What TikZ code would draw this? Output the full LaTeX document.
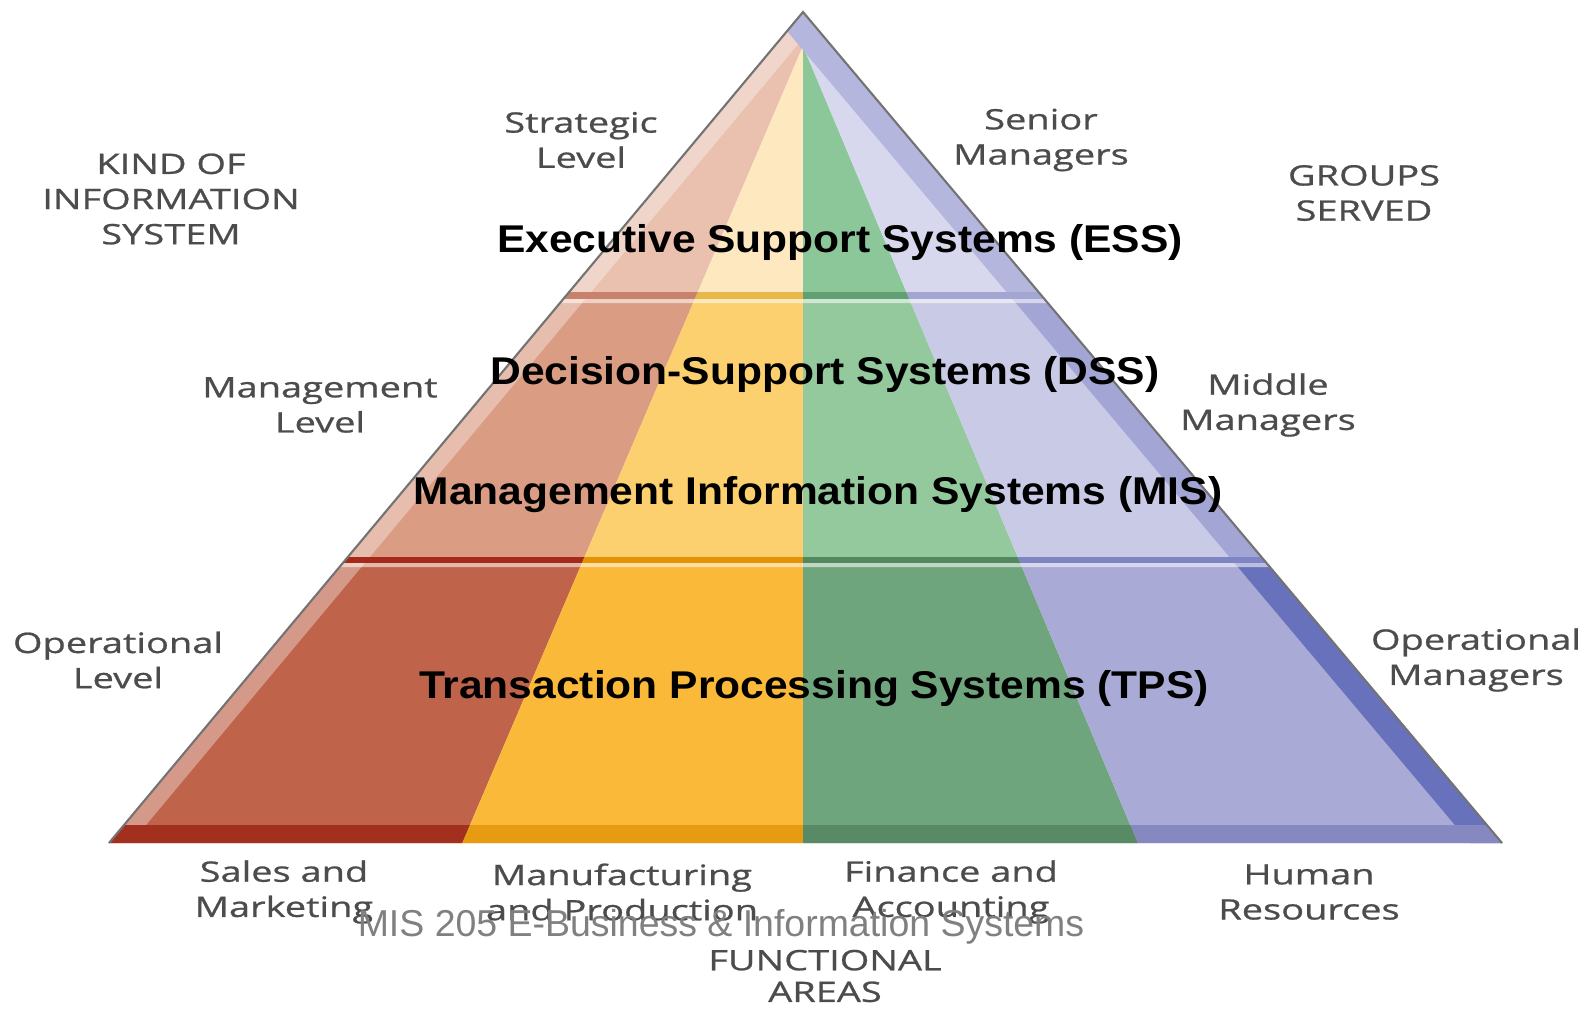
\documentclass[tikz,border=0pt]{standalone}
\usepackage{fontspec}
\setmainfont{Liberation Sans}
\newfontfamily\sysfont[FakeStretch=1.1]{Liberation Sans}
\newfontfamily\lblfont[FakeStretch=1.35,FakeBold=0.8]{Open Sans}
\newfontfamily\markfont{Liberation Sans}
\usetikzlibrary{calc}

% tier colours: A = strategic, B = management, C = operational
\definecolor{salesA}{HTML}{E9C1AE}
\definecolor{manufA}{HTML}{FDE8BF}
\definecolor{financeA}{HTML}{8CC79A}
\definecolor{hrA}{HTML}{D7D8EE}
\definecolor{hrEdgeA}{HTML}{B4B6DD}
\definecolor{salesDkA}{HTML}{C8826C}
\definecolor{manufDkA}{HTML}{E9B84A}
\definecolor{financeDkA}{HTML}{62A074}
\definecolor{hrDkA}{HTML}{A3A5D3}
\definecolor{salesB}{HTML}{DB9C84}
\definecolor{manufB}{HTML}{FDD06F}
\definecolor{financeB}{HTML}{94C99D}
\definecolor{hrB}{HTML}{C9CAE6}
\definecolor{hrEdgeB}{HTML}{A3A6D5}
\definecolor{salesDkB}{HTML}{A52A1A}
\definecolor{manufDkB}{HTML}{E39405}
\definecolor{financeDkB}{HTML}{52885F}
\definecolor{hrDkB}{HTML}{7F85C2}
\definecolor{salesC}{HTML}{C0634B}
\definecolor{manufC}{HTML}{FBB939}
\definecolor{financeC}{HTML}{6FA57C}
\definecolor{hrC}{HTML}{A9AAD5}
\definecolor{hrEdgeC}{HTML}{6872BC}
\definecolor{salesDkC}{HTML}{A3301F}
\definecolor{manufDkC}{HTML}{E69B12}
\definecolor{financeDkC}{HTML}{588A66}
\definecolor{hrDkC}{HTML}{8589BF}

% the four functional columns, fanning out from just below the apex
\newcommand{\colfans}[4]{%
  \fill[#1] (803,0) -- (803,46) -- (455,860) -- (0,860) -- (0,0) -- cycle;
  \fill[#2] (803,46) -- (455,860) -- (803,860) -- cycle;
  \fill[#3] (803,46) -- (803,860) -- (1145,860) -- cycle;
  \fill[#4] (803,0) -- (803,46) -- (1145,860) -- (1591,860) -- (1591,0) -- cycle;
}

\begin{document}
\begin{tikzpicture}[x=0.01cm,y=-0.01cm,
  sys node/.style={font=\sysfont\bfseries\fontsize{11}{13}\selectfont,text=black},
  level node/.style={font=\lblfont\fontsize{8}{10}\selectfont,text=black!70,align=center},
  mark node/.style={font=\markfont\fontsize{10.65}{12}\selectfont,text=black!50}]

  \useasboundingbox (0,0) rectangle (1591,1009);

  \coordinate (top) at (803,12);
  \coordinate (bl) at (109,843);
  \coordinate (br) at (1502,843);

  % pyramid
  \begin{scope}
    \clip (top) -- (bl) -- (br) -- cycle;
    \foreach \t/\ya/\yb/\yc in {A/0/292/299, B/299/557/563, C/563/825/843} {
      \begin{scope}
        \clip (0,\ya) rectangle (1591,\yc);
        \colfans{sales\t}{manuf\t}{finance\t}{hr\t}
        \fill[white,opacity=.35] (top) -- (bl) -- ++(22,0) -- ($(top)+(22,0)$) -- cycle;
        \fill[hrEdge\t] (top) -- (br) -- ++(-32,0) -- ($(top)+(-32,0)$) -- cycle;
        \clip (0,\yb) rectangle (1591,\yc);
        \colfans{salesDk\t}{manufDk\t}{financeDk\t}{hrDk\t}
      \end{scope}
    }
    \fill[white,opacity=.55] (0,299) rectangle (1591,303) (0,563) rectangle (1591,567);
  \end{scope}
  \draw[black!55,line width=.6pt] (bl) -- (top) -- (br);

  \node[sys node] (ess) at (840,242) {Executive Support Systems (ESS)};
  \node[sys node] (dss) at (825,374) {Decision-Support Systems (DSS)};
  \node[sys node] (mis) at (818,495) {Management Information Systems (MIS)};
  \node[sys node] (tps) at (814,689) {Transaction Processing Systems (TPS)};

  \node[level node] (kind) at (171,199) {KIND OF\\INFORMATION\\SYSTEM};
  \node[level node] (groups) at (1364,193) {GROUPS\\SERVED};
  \node[level node] (strat) at (581,140) {Strategic\\Level};
  \node[level node] (senior) at (1041,140) {Senior\\Managers};
  \node[level node] (mgmt) at (320,405) {Management\\Level};
  \node[level node] (middle) at (1268,405) {Middle\\Managers};
  \node[level node] (oplevel) at (118,660) {Operational\\Level};
  \node[level node] (opmgr) at (1476,660) {Operational\\Managers};

  \node[level node] (sales) at (284,892) {Sales and\\Marketing};
  \node[level node] (manuf) at (622,892) {Manufacturing\\and Production};
  \node[level node] (finance) at (951,892) {Finance and\\Accounting};
  \node[level node] (hr) at (1309,892) {Human\\Resources};
  \node[level node,font=\lblfont\fontsize{8}{9}\selectfont,inner sep=1pt] (areas) at (825,976) {FUNCTIONAL\\AREAS};

  \node[mark node] (mark) at (721,927) {MIS 205 E-Business \& Information Systems};

\end{tikzpicture}
\end{document}
